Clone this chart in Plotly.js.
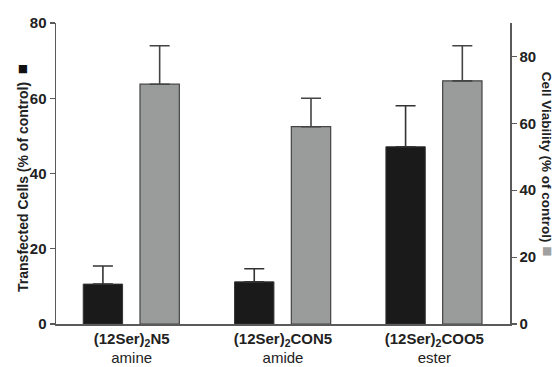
<!DOCTYPE html>
<html>
<head>
<meta charset="utf-8">
<script src="https://cdn.plot.ly/plotly-3.0.1.min.js"></script>
<style>
  html, body { margin: 0; padding: 0; background: #fff; }
  #chart { width: 557px; height: 367px; }
</style>
</head>
<body>
<div id="chart"></div>
<script>
// Lipid variants and their linker chemistry
const compounds = ['(12Ser)<sub>2</sub>N5', '(12Ser)<sub>2</sub>CON5', '(12Ser)<sub>2</sub>COO5'];
const linkers = ['amine', 'amide', 'ester'];

// Transfected cells (% of control), left axis
const transfected = [10.6, 11.2, 47.1];
const transfectedErr = [4.8, 3.5, 10.9];

// Cell viability (% of control), right axis
const viability = [71.7, 59.0, 72.7];
const viabilityErr = [11.5, 8.5, 10.5];

const tickLabels = compounds.map((c, i) => '<b>' + c + '</b><br>' + linkers[i]);
const xIdx = compounds.map((_, i) => i);

const font = 'Liberation Sans, Arial, sans-serif';
const axisColor = '#5a5a5a';

const traces = [
  {
    type: 'bar',
    x: xIdx,
    y: transfected,
    yaxis: 'y',
    width: 0.26,
    offset: -0.32,
    marker: { color: '#1a1a1a', line: { color: '#333', width: 1 } },
    error_y: {
      type: 'data', symmetric: false, array: transfectedErr,
      arrayminus: transfectedErr.map(() => 0),
      color: '#333', thickness: 1.6, width: 10
    },
    hoverinfo: 'y'
  },
  {
    type: 'bar',
    x: xIdx,
    y: viability,
    yaxis: 'y2',
    width: 0.26,
    offset: 0.055,
    marker: { color: '#9a9b9b', line: { color: '#444', width: 1.2 } },
    error_y: {
      type: 'data', symmetric: false, array: viabilityErr,
      arrayminus: viabilityErr.map(() => 0),
      color: '#444', thickness: 1.6, width: 10
    },
    hoverinfo: 'y'
  }
];

const layout = {
  width: 557,
  height: 367,
  margin: { l: 56, r: 47, t: 23, b: 43 },
  paper_bgcolor: '#fff',
  plot_bgcolor: '#fff',
  showlegend: false,
  font: { family: font, color: '#222', size: 14 },
  xaxis: {
    range: [-0.5, 2.5],
    tickmode: 'array',
    tickvals: xIdx,
    ticktext: tickLabels,
    ticks: '',
    showline: true,
    linecolor: axisColor,
    linewidth: 1.5,
    showgrid: false,
    zeroline: false,
    tickfont: { family: font, size: 15, color: '#222' },
    fixedrange: true
  },
  yaxis: {
    range: [0, 80],
    dtick: 20,
    ticks: 'outside',
    ticklen: 5,
    tickwidth: 1.2,
    tickcolor: axisColor,
    showline: true,
    linecolor: axisColor,
    linewidth: 1.5,
    showgrid: false,
    zeroline: false,
    tickfont: { family: font, size: 15, color: '#222', weight: 'bold' },
    fixedrange: true
  },
  yaxis2: {
    range: [0, 90],
    dtick: 20,
    overlaying: 'y',
    side: 'right',
    ticks: 'outside',
    ticklen: 5,
    tickwidth: 1.2,
    tickcolor: axisColor,
    showline: true,
    linecolor: axisColor,
    linewidth: 1.5,
    showgrid: false,
    zeroline: false,
    tickfont: { family: font, size: 15, color: '#222', weight: 'bold' },
    fixedrange: true
  },
  annotations: [
    // left axis title, reading bottom to top
    {
      xref: 'paper', yref: 'paper',
      x: -0.075, y: 0.485,
      xanchor: 'center', yanchor: 'middle',
      textangle: -90,
      showarrow: false,
      text: '<b>Transfected Cells (% of control)  <span style="color:#111;font-size:17px">■</span></b>',
      font: { family: font, size: 14, color: '#222' }
    },
    // right axis title, reading top to bottom
    {
      xref: 'paper', yref: 'paper',
      x: 1.083, y: 0.53,
      xanchor: 'center', yanchor: 'middle',
      textangle: 90,
      showarrow: false,
      text: '<b>Cell Viability (% of control) <span style="color:#a0a0a0;font-size:17px">■</span></b>',
      font: { family: font, size: 13.5, color: '#222' }
    }
  ]
};

Plotly.newPlot('chart', traces, layout, { displayModeBar: false, staticPlot: true });
</script>
</body>
</html>
